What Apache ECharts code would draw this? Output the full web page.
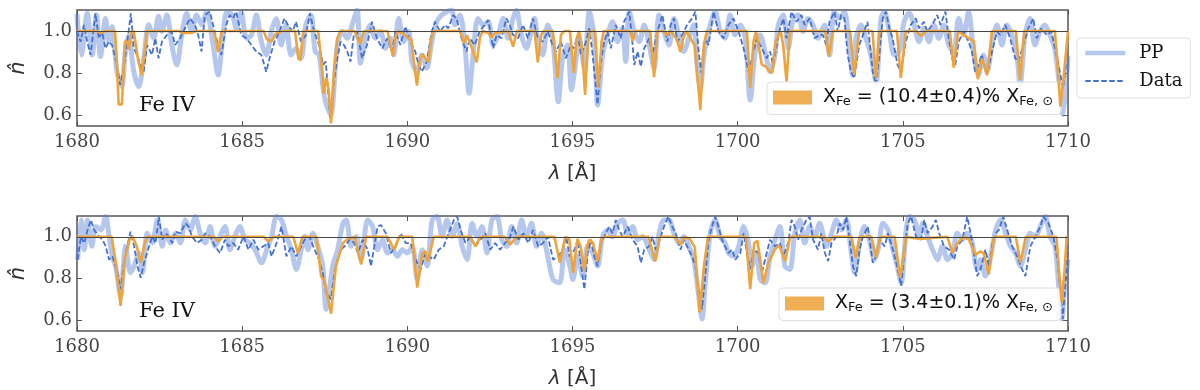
<!DOCTYPE html>
<html>
<head>
<meta charset="utf-8">
<script src="https://cdn.jsdelivr.net/npm/echarts@6.0.0/dist/echarts.min.js"></script>
<style>
  html, body { margin: 0; padding: 0; background: #fff; }
  #chart { width: 1200px; height: 390px; }
</style>
</head>
<body>
<div id="chart"></div>
<script>
// wavelength [Å] vs normalised flux
const xTicks = [1680, 1685, 1690, 1695, 1700, 1705, 1710];
const yTicks = [0.6, 0.8, 1.0];

// top panel
const pp1 = [[1680.0,1.08],[1680.13,0.886],[1680.31,1.084],[1680.46,0.886],[1680.59,1.076],[1680.71,0.878],[1680.86,1.06],[1680.96,0.949],[1681.06,1.02],[1681.21,0.806],[1681.36,0.735],[1681.46,0.9],[1681.56,0.98],[1681.72,0.806],[1681.87,0.735],[1682.02,0.87],[1682.17,1.03],[1682.32,0.965],[1682.47,1.07],[1682.57,0.997],[1682.72,1.076],[1682.87,0.933],[1683.02,0.838],[1683.17,0.98],[1683.32,1.084],[1683.47,0.997],[1683.62,1.076],[1683.77,1.03],[1683.92,1.09],[1684.12,0.933],[1684.27,0.79],[1684.42,0.98],[1684.54,1.09],[1684.70,1.076],[1684.82,1.013],[1684.97,1.09],[1685.13,0.965],[1685.28,0.98],[1685.43,1.076],[1685.58,0.949],[1685.73,0.886],[1685.88,0.997],[1686.03,1.06],[1686.18,0.933],[1686.33,1.03],[1686.48,0.886],[1686.63,0.917],[1686.78,0.87],[1686.93,1.03],[1687.08,1.076],[1687.21,0.902],[1687.33,0.886],[1687.45,0.727],
  [1687.53,0.66],[1687.68,0.6],[1687.88,0.933],[1688.03,0.997],[1688.18,0.965],[1688.33,1.029],[1688.48,1.1],[1688.58,0.846],[1688.73,0.965],[1688.88,1.029],[1689.03,0.965],[1689.19,0.997],[1689.34,0.917],[1689.49,0.965],[1689.59,0.886],[1689.74,1.06],[1689.89,0.949],[1690.04,0.997],[1690.14,0.854],[1690.29,0.806],[1690.44,0.886],[1690.59,0.822],[1690.74,0.949],[1690.89,1.044],[1691.04,1.076],[1691.19,1.092],[1691.34,1.1],[1691.44,1.029],[1691.59,1.076],[1691.74,0.933],[1691.87,0.703],[1691.99,0.886],[1692.14,1.06],[1692.29,1.029],[1692.45,1.044],[1692.6,0.933],[1692.75,0.981],[1692.9,1.06],[1693.05,0.965],[1693.2,1.06],[1693.3,1.1],[1693.45,0.981],[1693.6,0.917],[1693.75,0.997],[1693.85,1.06],[1693.95,0.949],[1694.1,0.886],[1694.25,1.029],[1694.4,0.965],[1694.57,0.663],[1694.7,0.87],[1694.85,0.933],[1694.97,0.72],
  [1695.06,0.806],[1695.21,0.965],[1695.36,0.82],[1695.51,1.092],[1695.66,0.965],[1695.76,0.647],[1695.91,0.886],[1696.06,0.981],[1696.21,1.044],[1696.36,0.949],[1696.51,1.013],[1696.61,0.854],[1696.72,1.092],[1696.87,0.997],[1697.02,0.949],[1697.17,1.029],[1697.32,0.933],[1697.47,0.822],[1697.62,1.076],[1697.77,0.997],[1697.92,0.933],[1698.07,1.06],[1698.22,0.981],[1698.37,0.902],[1698.52,0.965],[1698.67,1.029],[1698.77,0.838],[1698.87,0.727],[1698.97,0.87],[1699.07,0.965],[1699.17,1.029],[1699.32,1.092],[1699.47,0.997],[1699.62,0.965],[1699.77,1.076],[1699.92,0.981],[1700.08,1.029],[1700.23,0.965],[1700.38,0.671],[1700.53,0.902],[1700.68,0.981],[1700.83,0.902],[1700.98,0.806],[1701.13,0.886],[1701.23,1.029],[1701.38,1.076],[1701.53,0.917],[1701.68,1.06],[1701.83,1.076],[1701.98,0.997],[1702.13,1.06],[1702.28,1.029],[1702.43,0.965],
  [1702.63,1.029],[1702.78,0.886],[1702.93,1.092],[1703.08,1.06],[1703.23,1.092],[1703.38,0.917],[1703.48,0.79],[1703.58,0.965],[1703.73,1.029],[1703.88,0.965],[1704.03,0.886],[1704.19,0.759],[1704.34,1.06],[1704.44,1.092],[1704.59,0.997],[1704.74,0.886],[1704.89,0.902],[1705.04,1.044],[1705.19,1.084],[1705.34,1.029],[1705.49,0.949],[1705.64,1.013],[1705.79,0.949],[1705.94,1.029],[1706.09,0.965],[1706.24,1.029],[1706.39,0.933],[1706.54,0.902],[1706.69,1.06],[1706.84,0.981],[1706.99,1.092],[1707.14,0.902],[1707.29,0.79],[1707.44,0.886],[1707.55,0.806],[1707.70,0.933],[1707.85,1.029],[1708.0,0.933],[1708.15,1.029],[1708.3,0.981],[1708.45,0.886],[1708.55,0.743],[1708.7,0.981],[1708.85,1.06],[1709.0,0.933],[1709.15,0.997],[1709.3,1.029],[1709.45,0.981],[1709.6,0.917],[1709.75,0.727],[1709.85,0.6],[1710.0,0.88]];

const data1 = [[1680.0,1.0],[1680.11,0.949],[1680.21,1.029],[1680.31,0.949],[1680.41,0.886],[1680.56,1.084],[1680.66,0.965],[1680.76,0.997],[1680.86,0.917],[1680.96,0.949],[1681.06,0.933],[1681.16,0.87],[1681.31,0.743],[1681.41,0.822],[1681.51,0.933],[1681.63,1.084],[1681.72,0.917],[1681.82,0.886],[1681.92,0.838],[1682.02,0.806],[1682.12,0.933],[1682.27,0.886],[1682.37,0.965],[1682.47,0.87],[1682.57,0.949],[1682.72,0.981],[1682.87,0.997],[1682.97,0.933],[1683.12,0.965],[1683.27,1.013],[1683.42,1.06],[1683.57,1.029],[1683.67,0.981],[1683.77,0.902],[1683.87,1.076],[1684.02,1.092],[1684.12,1.029],[1684.27,0.933],[1684.37,0.886],[1684.52,1.029],[1684.62,1.076],[1684.72,1.06],[1684.82,1.092],[1684.97,0.981],[1685.13,0.965],[1685.28,0.933],[1685.43,0.902],[1685.58,0.886],[1685.73,0.806],[1685.83,0.87],[1685.98,0.949],[1686.13,0.997],[1686.28,1.06],[1686.38,1.029],[1686.53,0.997],[1686.63,1.044],[1686.78,0.949],[1686.93,0.981],[1687.05,1.084],[1687.18,0.997],[1687.33,0.933],[1687.45,0.838],
  [1687.53,0.854],[1687.68,0.56],[1687.78,0.759],[1687.88,0.87],[1687.98,0.949],[1688.08,0.933],[1688.18,0.902],[1688.28,0.854],[1688.38,0.981],[1688.48,0.997],[1688.63,0.87],[1688.78,0.933],[1688.93,1.044],[1689.08,0.965],[1689.24,0.917],[1689.39,0.965],[1689.54,0.902],[1689.64,0.997],[1689.79,0.933],[1689.94,1.021],[1690.09,0.949],[1690.24,0.902],[1690.34,0.838],[1690.44,0.806],[1690.59,0.854],[1690.74,0.997],[1690.84,1.044],[1690.99,0.997],[1691.14,1.029],[1691.24,1.013],[1691.39,1.076],[1691.49,1.06],[1691.64,0.965],[1691.79,0.902],[1691.89,0.965],[1692.04,0.933],[1692.19,0.997],[1692.34,1.029],[1692.45,1.052],[1692.6,0.917],[1692.7,0.981],[1692.85,0.965],[1693.0,1.06],[1693.1,1.029],[1693.2,0.981],[1693.35,0.965],[1693.5,1.029],[1693.65,0.965],[1693.8,1.06],[1693.95,0.965],[1694.1,0.949],[1694.25,0.997],[1694.4,0.933],[1694.5,0.902],[1694.65,0.949],[1694.8,0.87],[1694.95,0.933],
  [1695.04,0.917],[1695.16,0.981],[1695.26,0.886],[1695.41,0.949],[1695.51,1.013],[1695.61,0.886],[1695.76,0.65],[1695.86,0.854],[1695.96,0.949],[1696.06,0.997],[1696.16,0.917],[1696.31,1.029],[1696.46,0.965],[1696.56,1.044],[1696.72,1.092],[1696.82,0.933],[1696.87,0.838],[1696.97,0.902],[1697.07,0.83],[1697.17,0.917],[1697.32,0.965],[1697.42,0.886],[1697.57,0.997],[1697.72,1.076],[1697.87,0.949],[1697.97,1.029],[1698.07,1.06],[1698.17,0.949],[1698.32,0.981],[1698.47,1.029],[1698.62,1.06],[1698.72,1.092],[1698.82,0.9],[1698.9,0.8],[1699.02,0.965],[1699.12,0.933],[1699.27,1.092],[1699.42,0.997],[1699.57,0.965],[1699.72,1.029],[1699.87,1.06],[1700.03,0.997],[1700.18,0.917],[1700.33,0.806],[1700.43,0.87],[1700.58,0.965],[1700.73,0.917],[1700.88,0.87],[1700.98,0.902],[1701.08,0.838],[1701.23,0.981],[1701.38,1.06],[1701.48,0.965],[1701.63,1.092],[1701.78,1.044],[1701.93,1.076],[1702.03,1.029],[1702.18,1.06],[1702.33,0.965],[1702.48,0.981],
  [1702.58,0.981],[1702.68,0.933],[1702.78,1.044],[1702.93,1.092],[1703.03,0.997],[1703.13,1.076],[1703.23,1.06],[1703.33,0.886],[1703.43,0.806],[1703.53,0.775],[1703.68,0.933],[1703.83,0.997],[1703.93,1.044],[1704.09,0.806],[1704.19,0.743],[1704.29,0.886],[1704.39,1.06],[1704.49,1.092],[1704.59,1.013],[1704.69,0.965],[1704.84,0.838],[1704.94,0.806],[1705.09,0.949],[1705.24,1.029],[1705.39,1.06],[1705.49,1.013],[1705.64,1.044],[1705.74,0.997],[1705.89,1.029],[1706.04,1.076],[1706.14,1.029],[1706.29,1.092],[1706.39,0.965],[1706.49,0.87],[1706.59,0.838],[1706.69,0.949],[1706.84,0.997],[1706.99,0.949],[1707.09,0.902],[1707.19,0.806],[1707.29,0.838],[1707.39,0.886],[1707.55,0.79],[1707.70,0.902],[1707.85,0.997],[1707.95,0.981],[1708.1,1.029],[1708.25,0.965],[1708.4,0.87],[1708.5,0.854],[1708.65,0.933],[1708.8,1.013],[1708.95,1.06],[1709.05,0.965],[1709.2,1.013],[1709.35,0.981],[1709.5,0.997],[1709.6,0.917],[1709.75,0.806],[1709.85,0.727],[1709.95,0.854]];

const fit1 = [[1680.0,1.0],[1680.6,1.0],[1680.72,0.99],[1680.85,1.0],[1681.15,1.0],[1681.22,0.8],[1681.26,0.65],[1681.36,0.65],[1681.45,0.95],[1681.52,0.95],[1681.57,0.91],[1681.65,1.0],[1681.72,1.0],[1681.85,0.86],[1681.96,0.79],[1682.05,0.9],[1682.12,1.0],[1683.1,1.0],[1683.2,0.99],[1683.45,0.99],[1683.6,1.0],[1684.15,1.0],[1684.27,0.9],[1684.38,1.0],[1685.65,1.0],[1685.75,0.96],[1685.9,0.95],[1686.0,0.985],[1686.2,1.0],[1686.6,1.0],[1686.7,0.87],[1686.76,0.86],[1686.85,1.0],[1687.3,1.0],[1687.4,0.85],[1687.47,0.70],[1687.55,0.78],[1687.62,0.72],[1687.69,0.56],[1687.78,0.8],[1687.88,0.965],[1687.98,1.0],[1688.4,1.0],[1688.5,0.96],[1688.58,0.94],[1688.68,1.0],[1689.4,1.0],[1689.5,0.92],[1689.57,0.88],[1689.65,0.98],[1689.74,1.0],[1689.85,0.99],[1690.0,0.97],[1690.12,0.96],[1690.2,0.85],[1690.29,0.74],[1690.38,0.86],[1690.46,0.89],[1690.55,0.87],[1690.64,0.85],[1690.72,0.96],[1690.79,1.0],[1691.6,1.0],[1691.72,0.94],[1691.8,0.98],[1691.95,0.92],[1692.1,0.85],[1692.2,0.97],[1692.28,1.0],[1692.45,0.99],[1692.55,0.97],[1692.65,0.99],[1693.05,1.0],[1693.2,0.925],[1693.32,1.0],[1693.85,1.0],[1693.95,0.85],[1694.05,0.98],[1694.12,1.0],[1694.4,1.0],[1694.5,0.85],[1694.55,0.775],[1694.65,0.98],[1694.75,1.0],[1694.92,1.0],[1695.04,0.80],[1695.12,0.96],[1695.2,1.0],[1695.3,0.9],[1695.38,0.695],[1695.47,0.95],[1695.55,1.0],[1695.68,1.0],[1695.78,0.73],[1695.88,0.95],[1695.95,1.0],[1696.75,1.0],[1696.82,0.95],[1696.9,1.0],[1697.35,1.0],[1697.47,0.78],[1697.57,1.0],[1697.75,1.0],[1697.85,0.98],[1697.98,1.0],[1698.15,0.96],[1698.27,0.9],[1698.35,0.965],[1698.45,1.0],[1698.55,0.97],[1698.7,0.93],[1698.87,0.624],[1698.98,0.94],[1699.07,1.0],[1700.28,1.0],[1700.38,0.727],[1700.48,0.95],[1700.56,1.0],[1700.73,0.84],[1700.85,0.83],[1700.95,0.81],[1701.05,0.80],[1701.15,0.95],[1701.3,1.0],[1701.38,0.93],[1701.48,0.76],[1701.58,1.0],[1702.65,1.0],[1702.76,0.878],[1702.88,1.0],[1703.4,1.0],[1703.53,0.79],[1703.68,1.0],[1704.08,1.0],[1704.19,0.775],[1704.29,1.0],[1704.82,1.0],[1704.94,0.776],[1705.09,1.0],[1705.4,1.0],[1705.55,0.975],[1705.7,1.0],[1706.42,1.0],[1706.54,0.825],[1706.68,1.0],[1706.85,0.98],[1707.15,0.95],[1707.27,0.77],[1707.4,0.87],[1707.55,0.79],[1707.7,1.0],[1708.42,1.0],[1708.55,0.767],[1708.68,1.0],[1709.6,1.0],[1709.7,0.8],[1709.77,0.64],[1709.85,0.75],[1710.0,1.0]];

// bottom panel
const pp2 = [[1680.02,0.89],[1680.12,1.081],[1680.22,0.938],[1680.32,1.081],[1680.45,0.954],[1680.57,1.049],[1680.72,1.033],[1680.87,1.097],[1680.97,1.002],[1681.07,0.906],[1681.17,0.859],[1681.32,0.716],[1681.47,0.954],[1681.62,0.827],[1681.73,0.859],[1681.88,0.922],[1681.98,0.827],[1682.13,1.017],[1682.28,0.97],[1682.43,1.081],[1682.58,0.954],[1682.68,1.033],[1682.83,0.97],[1682.98,1.017],[1683.13,0.97],[1683.28,1.081],[1683.43,1.033],[1683.58,1.097],[1683.73,1.017],[1683.88,0.97],[1684.03,1.049],[1684.18,0.954],[1684.33,1.002],[1684.48,1.049],[1684.63,0.938],[1684.78,1.002],[1684.93,1.049],[1685.09,0.986],[1685.24,0.97],[1685.39,0.938],[1685.59,0.875],[1685.74,0.938],[1685.89,1.002],[1686.04,1.097],[1686.19,1.081],[1686.34,1.002],[1686.49,0.938],[1686.64,0.843],[1686.79,0.938],[1686.89,1.002],
  [1686.99,0.938],[1687.14,1.017],[1687.29,0.954],[1687.44,0.859],[1687.54,0.652],[1687.74,0.859],[1687.89,0.938],[1688.05,1.065],[1688.15,1.081],[1688.3,0.954],[1688.45,1.002],[1688.6,0.89],[1688.8,1.081],[1688.95,1.049],[1689.1,0.938],[1689.25,0.986],[1689.4,0.922],[1689.55,0.938],[1689.7,0.906],[1689.85,0.938],[1690.0,0.922],[1690.15,0.954],[1690.3,0.795],[1690.45,0.938],[1690.6,0.859],[1690.75,1.081],[1690.9,1.097],[1691.05,1.002],[1691.2,1.081],[1691.36,1.002],[1691.51,1.065],[1691.66,0.954],[1691.81,0.89],[1691.96,1.065],[1692.11,1.002],[1692.26,1.049],[1692.41,0.922],[1692.56,1.081],[1692.71,1.097],[1692.86,0.986],[1693.01,0.954],[1693.16,1.049],[1693.31,0.97],[1693.46,1.081],[1693.61,1.002],[1693.76,1.065],[1693.91,0.954],[1694.06,1.017],[1694.21,0.938],[1694.41,0.795],[1694.61,0.779],[1694.76,0.938],[1694.92,0.859],
  [1695.01,0.795],[1695.16,0.906],[1695.31,0.811],[1695.46,0.954],[1695.61,0.922],[1695.76,0.859],[1695.91,1.0],[1696.06,1.033],[1696.21,1.0],[1696.37,1.065],[1696.52,1.081],[1696.67,1.017],[1696.82,1.049],[1696.97,0.986],[1697.12,1.0],[1697.32,0.938],[1697.47,0.89],[1697.62,1.017],[1697.77,1.081],[1697.92,1.081],[1698.07,1.017],[1698.22,0.97],[1698.37,1.0],[1698.52,0.954],[1698.67,0.89],[1698.82,0.716],[1698.92,0.605],[1699.02,0.779],[1699.17,1.017],[1699.32,1.081],[1699.47,1.0],[1699.62,0.97],[1699.72,0.922],[1699.88,0.906],[1700.03,0.954],[1700.18,1.049],[1700.33,0.97],[1700.43,0.859],[1700.58,0.922],[1700.68,0.795],[1700.83,0.779],[1700.98,0.906],[1701.13,0.986],[1701.28,1.049],[1701.43,0.859],[1701.58,0.843],[1701.73,1.017],[1701.88,1.081],[1702.03,0.97],[1702.18,1.049],[1702.33,1.0],[1702.48,1.065],
  [1702.69,0.954],[1702.84,1.017],[1702.99,1.081],[1703.14,1.033],[1703.29,1.081],[1703.44,0.922],[1703.54,0.827],[1703.69,0.97],[1703.84,1.049],[1703.99,0.986],[1704.14,0.89],[1704.25,0.938],[1704.4,1.065],[1704.55,1.033],[1704.7,0.938],[1704.83,0.859],[1704.95,0.779],[1705.1,1.033],[1705.2,1.097],[1705.35,1.081],[1705.5,1.002],[1705.6,1.065],[1705.75,1.0],[1705.9,0.938],[1706.05,0.89],[1706.2,0.954],[1706.35,0.89],[1706.5,0.922],[1706.65,1.017],[1706.8,0.986],[1706.95,1.017],[1707.1,0.97],[1707.25,0.843],[1707.35,0.89],[1707.5,0.811],[1707.66,0.906],[1707.81,1.033],[1707.96,1.081],[1708.11,1.017],[1708.26,0.954],[1708.41,0.922],[1708.56,0.859],[1708.71,0.938],[1708.86,1.017],[1709.01,1.0],[1709.16,1.049],[1709.31,1.097],[1709.46,1.0],[1709.61,0.954],[1709.71,0.779],[1709.81,0.605],[1709.91,0.779],[1710.0,0.89]];

const data2 = [[1680.02,0.89],[1680.12,1.002],[1680.22,0.97],[1680.32,1.033],[1680.42,1.081],[1680.52,1.033],[1680.67,1.002],[1680.77,0.986],[1680.87,0.954],[1680.97,0.89],[1681.07,0.906],[1681.22,0.827],[1681.32,0.748],[1681.42,0.875],[1681.52,0.954],[1681.62,1.025],[1681.73,0.954],[1681.83,0.859],[1681.93,0.803],[1682.03,0.875],[1682.18,0.954],[1682.28,1.002],[1682.38,0.97],[1682.48,1.097],[1682.58,0.986],[1682.68,1.017],[1682.78,1.002],[1682.88,0.97],[1682.98,1.025],[1683.13,1.017],[1683.28,1.065],[1683.38,1.049],[1683.48,1.002],[1683.63,0.97],[1683.78,0.986],[1683.88,1.017],[1684.03,1.002],[1684.18,0.954],[1684.33,0.922],[1684.48,0.986],[1684.58,0.954],[1684.73,0.97],[1684.88,0.938],[1685.04,1.002],[1685.19,0.938],[1685.34,0.986],[1685.49,0.938],[1685.64,0.954],[1685.79,0.97],[1685.89,0.906],[1686.04,0.97],[1686.19,1.049],[1686.34,0.906],[1686.49,0.954],[1686.64,0.906],[1686.79,0.954],[1686.89,0.986],
  [1687.04,1.0],[1687.19,0.938],[1687.29,0.906],[1687.44,0.827],[1687.54,0.732],[1687.69,0.70],[1687.79,0.827],[1687.89,0.89],[1687.99,0.938],[1688.15,0.962],[1688.25,0.986],[1688.4,0.97],[1688.5,0.922],[1688.65,0.986],[1688.8,0.938],[1688.9,0.859],[1689.0,0.954],[1689.1,1.049],[1689.2,1.057],[1689.35,1.017],[1689.5,0.922],[1689.65,0.954],[1689.8,1.017],[1689.95,0.97],[1690.1,0.97],[1690.25,0.89],[1690.4,0.843],[1690.55,0.922],[1690.65,0.906],[1690.8,0.89],[1690.95,0.938],[1691.1,0.954],[1691.25,1.017],[1691.41,1.081],[1691.51,1.097],[1691.61,1.033],[1691.76,0.97],[1691.91,1.0],[1692.06,0.954],[1692.21,0.986],[1692.36,1.017],[1692.51,0.938],[1692.66,0.97],[1692.81,0.938],[1692.96,0.97],[1693.11,1.0],[1693.21,1.049],[1693.36,0.986],[1693.51,1.017],[1693.66,0.97],[1693.81,1.033],[1693.96,0.954],[1694.11,0.97],[1694.26,1.0],[1694.41,0.89],[1694.56,0.906],[1694.71,0.938],
  [1694.81,1.0],[1694.91,0.906],[1695.06,0.938],[1695.16,0.986],[1695.26,0.859],[1695.36,0.748],[1695.46,0.922],[1695.56,0.986],[1695.66,0.906],[1695.76,0.859],[1695.86,0.97],[1696.01,1.017],[1696.11,1.049],[1696.21,1.017],[1696.31,1.081],[1696.41,1.033],[1696.52,1.0],[1696.67,1.049],[1696.82,0.986],[1696.97,0.954],[1697.07,0.875],[1697.17,0.938],[1697.32,0.954],[1697.42,1.0],[1697.52,0.938],[1697.67,1.0],[1697.77,1.049],[1697.9,1.097],[1698.02,1.049],[1698.12,1.017],[1698.27,0.938],[1698.37,0.986],[1698.52,0.938],[1698.62,0.906],[1698.72,0.859],[1698.82,0.732],[1698.92,0.652],[1699.02,0.811],[1699.12,0.986],[1699.22,1.049],[1699.32,1.097],[1699.42,1.049],[1699.52,0.986],[1699.62,0.954],[1699.72,0.922],[1699.83,0.938],[1699.93,0.89],[1700.08,0.922],[1700.18,1.017],[1700.28,0.922],[1700.38,0.843],[1700.48,0.938],[1700.63,0.922],[1700.73,0.827],[1700.88,0.922],[1700.98,0.986],[1701.13,0.954],[1701.28,0.97],[1701.38,0.906],[1701.53,0.97],[1701.63,1.081],[1701.73,1.049],[1701.83,0.986],[1701.93,1.033],[1702.08,1.081],[1702.18,1.097],[1702.28,0.986],[1702.43,0.938],[1702.53,1.017],
  [1702.64,0.922],[1702.74,0.883],[1702.84,0.97],[1702.99,1.0],[1703.09,1.065],[1703.19,1.033],[1703.29,1.097],[1703.39,0.986],[1703.49,0.859],[1703.59,0.811],[1703.69,0.938],[1703.79,1.0],[1703.94,1.049],[1704.09,0.875],[1704.19,0.906],[1704.3,0.986],[1704.45,0.954],[1704.55,1.017],[1704.7,0.938],[1704.85,0.843],[1704.95,0.764],[1705.05,0.938],[1705.15,1.065],[1705.25,1.097],[1705.4,1.0],[1705.55,0.986],[1705.65,1.081],[1705.75,1.017],[1705.9,1.049],[1706.0,1.081],[1706.1,1.017],[1706.25,0.954],[1706.4,0.938],[1706.55,0.89],[1706.65,0.954],[1706.8,0.986],[1706.95,1.097],[1707.05,1.017],[1707.15,0.922],[1707.25,0.811],[1707.35,0.843],[1707.5,0.938],[1707.61,0.859],[1707.71,0.97],[1707.81,1.017],[1707.91,1.033],[1708.04,1.097],[1708.16,1.033],[1708.31,0.954],[1708.46,0.906],[1708.61,0.843],[1708.71,0.811],[1708.86,0.954],[1709.01,1.0],[1709.16,1.049],[1709.26,1.097],[1709.41,1.065],[1709.56,1.0],[1709.68,0.89],[1709.76,0.748],[1709.84,0.605],[1709.94,0.811],[1710.0,0.954]];

const fit2 = [[1680.0,1.0],[1681.05,1.0],[1681.15,0.9],[1681.32,0.668],[1681.45,0.9],[1681.52,0.94],[1681.6,0.99],[1681.68,1.0],[1681.8,0.96],[1681.93,0.875],[1682.05,0.97],[1682.13,1.0],[1684.15,1.0],[1684.28,0.978],[1684.4,1.0],[1685.65,1.0],[1685.79,0.978],[1685.95,1.0],[1686.55,1.0],[1686.69,0.92],[1686.82,1.0],
  [1687.25,1.0],[1687.39,0.81],[1687.49,0.79],[1687.6,0.7],[1687.69,0.63],[1687.84,0.86],[1688.05,0.97],[1688.2,0.99],[1688.4,1.0],[1688.6,0.867],[1688.75,1.0],[1689.4,1.0],[1689.6,0.938],[1689.75,1.0],[1690.15,1.0],[1690.3,0.756],[1690.45,0.92],[1690.55,0.93],[1690.62,0.88],[1690.8,1.0],[1691.9,1.0],[1692.06,0.954],[1692.21,1.0],[1692.95,1.0],[1693.11,0.962],[1693.31,1.0],[1694.45,1.0],[1694.62,0.875],[1694.78,1.0],[1694.9,0.99],[1695.02,0.827],[1695.15,0.99],
  [1695.25,0.95],[1695.36,0.835],[1695.45,0.96],[1695.51,0.986],[1695.62,0.97],[1695.76,0.883],[1695.88,0.99],[1695.95,1.0],[1697.3,1.0],[1697.5,0.883],[1697.65,1.0],[1698.1,1.0],[1698.27,0.962],[1698.4,1.0],[1698.55,0.99],[1698.7,0.95],[1698.85,0.636],[1698.98,0.86],[1699.1,1.0],[1700.25,1.0],[1700.38,0.748],[1700.5,0.97],[1700.6,0.98],[1700.78,0.779],[1700.93,0.875],[1701.13,0.94],[1701.25,0.96],[1701.44,0.883],[1701.59,1.0],[1702.6,1.0],[1702.74,0.978],[1702.9,1.0],[1703.45,1.0],[1703.57,0.9],[1703.7,1.0],[1704.05,1.0],[1704.19,0.9],[1704.32,1.0],[1704.75,1.0],[1704.92,0.803],[1705.1,1.0],[1705.5,0.99],[1706.35,1.0],[1706.5,0.922],[1706.65,0.97],[1706.85,1.0],[1707.0,0.986],[1707.2,0.914],[1707.35,0.93],[1707.45,0.92],[1707.6,0.82],[1707.76,1.0],[1708.42,1.0],[1708.56,0.875],[1708.72,1.0],[1709.65,1.0],[1709.72,0.85],[1709.81,0.684],[1709.9,0.85],[1709.96,1.0],[1710.0,1.0]];

const fitLabels = {
  fe1: "{m|X}{s|Fe}{m| = (10.4±0.4)% X}{s|Fe, ⊙}",
  fe2: "{m|X}{s|Fe}{m| = (3.4±0.1)% X}{s|Fe, ⊙}",
};

const SERIF = "DejaVu Serif";
const SANS = "DejaVu Sans";
const PP_COLOR = "rgba(90,130,215,0.45)";
const DATA_COLOR = "#4470d0";
const FIT_COLOR = "#eea43a";
const FRAME = "#555";

const chart = echarts.init(document.getElementById("chart"), null, { renderer: "canvas" });

const grids = [
  { left: 71, right: 132, top: 10, height: 116 },
  { left: 71, right: 132, top: 216, height: 116 },
];

function xAxes(gi) {
  const base = {
    gridIndex: gi, type: "value", min: xTicks[0], max: xTicks[xTicks.length - 1], interval: 5,
    axisLine: { show: false }, splitLine: { show: false },
    axisTick: { inside: true, length: 5, lineStyle: { color: FRAME, width: 1 } },
  };
  return [
    Object.assign({}, base, {
      position: "bottom",
      axisLabel: { fontFamily: SERIF, fontSize: 18, color: "#444", margin: 7, formatter: (v) => String(v) },
      name: "{i|λ} [Å]", nameLocation: "middle", nameGap: 38,
      nameTextStyle: { fontFamily: SANS, fontSize: 20, color: "#333",
        rich: { i: { fontFamily: SANS, fontStyle: "italic", fontSize: 20, color: "#333" } } },
    }),
    Object.assign({}, base, { position: "top", axisLabel: { show: false } }),
  ];
}

function yAxes(gi) {
  const base = {
    gridIndex: gi, type: "value", min: 0.547, max: 1.1,
    axisLine: { show: false }, splitLine: { show: false },
    axisTick: { inside: true, length: 5, customValues: yTicks, lineStyle: { color: FRAME, width: 1 } },
  };
  return [
    Object.assign({}, base, {
      position: "left",
      axisLabel: { customValues: yTicks, formatter: (v) => v.toFixed(1),
        fontFamily: SERIF, fontSize: 18, color: "#444", margin: 5 },
      name: "n\u0302", nameLocation: "middle", nameGap: 48, nameRotate: 90,
      nameTextStyle: { fontFamily: SANS, fontStyle: "italic", fontSize: 21, color: "#333" },
    }),
    Object.assign({}, base, { position: "right", axisLabel: { show: false } }),
  ];
}

function panelSeries(gi, pp, obs, fit, fitName) {
  const xi = gi * 2, yi = gi * 2;
  return [
    {
      name: "PP", type: "line", xAxisIndex: xi, yAxisIndex: yi, data: pp,
      showSymbol: false, symbol: "none", smooth: 0.3, z: 2,
      lineStyle: { color: PP_COLOR, width: 5 }, itemStyle: { color: PP_COLOR },
      markLine: {
        silent: true, symbol: "none", label: { show: false },
        lineStyle: { color: "#444", width: 1.2, type: "solid" },
        data: [{ yAxis: 1.0 }],
      },
    },
    {
      name: "Data", type: "line", xAxisIndex: xi, yAxisIndex: yi, data: obs,
      showSymbol: false, symbol: "none", z: 3,
      lineStyle: { color: DATA_COLOR, width: 1.8, type: [5.5, 2.5] }, itemStyle: { color: DATA_COLOR },
    },
    {
      name: fitName, type: "line", xAxisIndex: xi, yAxisIndex: yi, data: fit,
      showSymbol: false, symbol: "none", z: 4,
      lineStyle: { color: FIT_COLOR, width: 2.6 }, itemStyle: { color: FIT_COLOR },
    },
  ];
}

function fitLegend(name, left, top) {
  return {
    left, top, orient: "vertical",
    data: [{ name, icon: "rect", itemStyle: { color: "#f0ae55" } }],
    itemWidth: 39, itemHeight: 14,
    padding: [6, 8, 6, 6],
    backgroundColor: "rgba(255,255,255,0.85)", borderColor: "#ddd", borderWidth: 1, borderRadius: 4,
    selectedMode: false,
    formatter: (n) => fitLabels[n],
    textStyle: {
      color: "#111", padding: [0, 0, 0, 6],
      rich: {
        m: { fontFamily: SANS, fontSize: 19, lineHeight: 22, color: "#111" },
        s: { fontFamily: SANS, fontSize: 13, lineHeight: 9, verticalAlign: "bottom", color: "#111" },
      },
    },
  };
}

chart.setOption({
  animation: false,
  backgroundColor: "#fff",
  grid: grids.map((g) => Object.assign({ show: true, borderColor: FRAME, borderWidth: 1.5, backgroundColor: "transparent" }, g)),
  xAxis: [...xAxes(0), ...xAxes(1)],
  yAxis: [...yAxes(0), ...yAxes(1)],
  legend: [
    {
      left: 1077, top: 38, orient: "vertical",
      data: [
        { name: "PP", itemStyle: { opacity: 0 }, lineStyle: { color: PP_COLOR, width: 4.5 } },
        { name: "Data", itemStyle: { opacity: 0 }, lineStyle: { color: DATA_COLOR, width: 1.8, type: [5.5, 2.5] } },
      ],
      itemWidth: 40, itemHeight: 14, itemGap: 8,
      padding: [5, 8, 7, 6],
      backgroundColor: "rgba(255,255,255,0.85)", borderColor: "#ddd", borderWidth: 1, borderRadius: 4,
      selectedMode: false,
      textStyle: { fontFamily: SERIF, fontSize: 18, color: "#111", padding: [0, 0, 0, 9], lineHeight: 20 },
    },
    fitLegend("fe1", 767, 82),
    fitLegend("fe2", 779, 288),
  ],
  graphic: [
    { type: "text", left: 139, top: 95, style: { text: "Fe IV", font: `21px "${SERIF}"`, fill: "#111" } },
    { type: "text", left: 139, top: 301, style: { text: "Fe IV", font: `21px "${SERIF}"`, fill: "#111" } },
  ],
  series: [
    ...panelSeries(0, pp1, data1, fit1, "fe1"),
    ...panelSeries(1, pp2, data2, fit2, "fe2"),
  ],
});
</script>
</body>
</html>
